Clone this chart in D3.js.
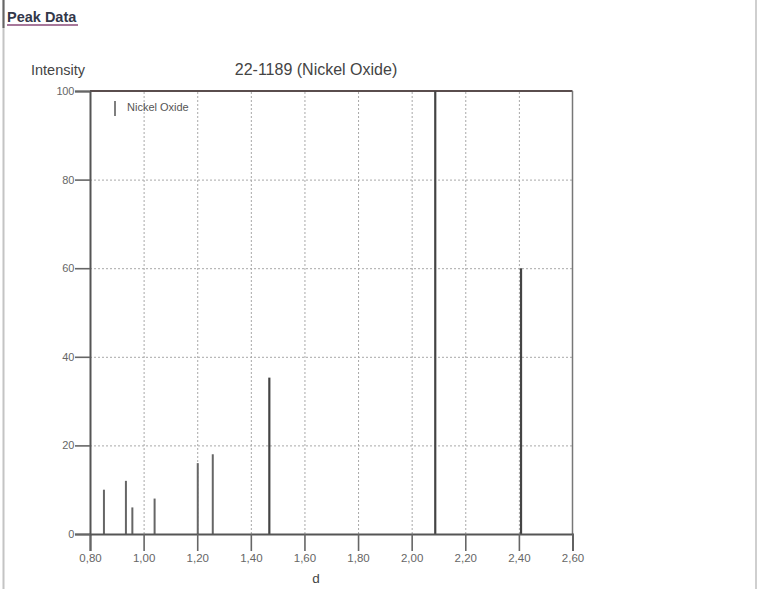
<!DOCTYPE html>
<html>
<head>
<meta charset="utf-8">
<script src="https://cdn.jsdelivr.net/npm/d3@7"></script>
<style>
  html, body { margin: 0; padding: 0; background: #fff; }
  svg { display: block; }
</style>
</head>
<body>
<svg id="chart" width="757" height="589"></svg>
<script>
// ---- data ----
const peakD = [0.852, 0.934, 0.958, 1.041, 1.202, 1.258, 1.469, 2.088, 2.408];
const peakIntensity = [10, 12, 6, 8, 16, 18, 35.3, 100, 60];
const xTicks = [0.8, 1.0, 1.2, 1.4, 1.6, 1.8, 2.0, 2.2, 2.4, 2.6];
const yTicks = [0, 20, 40, 60, 80, 100];
const seriesName = "Nickel Oxide";
const chartTitle = "22-1189 (Nickel Oxide)";

const svg = d3.select("#chart");
const mLeft = 90, mRight = 572.5, mTop = 91, mBottom = 534;

const x = d3.scaleLinear().domain([0.8, 2.6]).range([mLeft, mRight]);
const y = d3.scaleLinear().domain([0, 100]).range([mBottom, mTop]);
const fmt = d => d3.format(".2f")(d).replace(".", ",");
const FONT = "Liberation Sans, Arial, sans-serif";

// page frame lines
svg.append("line").attr("x1", 3.5).attr("x2", 3.5).attr("y1", 0).attr("y2", 589)
  .attr("stroke", "#c4c4c4").attr("stroke-width", 2);
svg.append("line").attr("x1", 3.5).attr("x2", 3.5).attr("y1", 0).attr("y2", 28)
  .attr("stroke", "#666").attr("stroke-width", 2);
svg.append("line").attr("x1", 756).attr("x2", 756).attr("y1", 0).attr("y2", 589)
  .attr("stroke", "#cfcfcf").attr("stroke-width", 2);

// Header
svg.append("text").attr("x", 7).attr("y", 22)
  .attr("font-family", FONT)
  .attr("font-size", 14.5).attr("font-weight", "bold").attr("fill", "#33384a")
  .text("Peak Data");
svg.append("line").attr("x1", 7).attr("x2", 78).attr("y1", 25).attr("y2", 25)
  .attr("stroke", "#8a4a78").attr("stroke-width", 1.5);

// grid
const gridX = svg.append("g").attr("transform", `translate(0,${mBottom})`)
  .call(d3.axisBottom(x).tickValues(xTicks.slice(1, -1)).tickSize(-(mBottom - mTop)).tickFormat(""));
gridX.select(".domain").remove();
gridX.selectAll("line").attr("stroke", "#a8a8a8").attr("stroke-dasharray", "2,2").attr("stroke-width", 1);

const gridY = svg.append("g").attr("transform", `translate(${mLeft},0)`)
  .call(d3.axisLeft(y).tickValues(yTicks.slice(1, -1)).tickSize(-(mRight - mLeft)).tickFormat(""));
gridY.select(".domain").remove();
gridY.selectAll("line").attr("stroke", "#a8a8a8").attr("stroke-dasharray", "2,2").attr("stroke-width", 1);

// frame top & right
svg.append("line").attr("x1", mLeft).attr("x2", mRight).attr("y1", mTop).attr("y2", mTop)
  .attr("stroke", "#5a4d4d").attr("stroke-width", 2);
svg.append("line").attr("x1", mRight).attr("x2", mRight).attr("y1", mTop).attr("y2", mBottom)
  .attr("stroke", "#777").attr("stroke-width", 1.5);

// peaks
svg.append("g").selectAll("line").data(peakD.map((d, i) => ({d, v: peakIntensity[i]})))
  .join("line")
  .attr("x1", p => x(p.d)).attr("x2", p => x(p.d))
  .attr("y1", y(0)).attr("y2", p => y(p.v))
  .attr("stroke", p => p.v >= 30 ? "#444" : "#666")
  .attr("stroke-width", p => p.v >= 30 ? 2.2 : 2);

// axes
const xAxis = svg.append("g").attr("transform", `translate(0,${mBottom})`)
  .call(d3.axisBottom(x).tickValues(xTicks).tickSize(17).tickPadding(3).tickFormat(fmt));
xAxis.select(".domain").attr("stroke", "#555").attr("stroke-width", 2);
xAxis.selectAll("line").attr("stroke", "#666").attr("stroke-width", 1.6);
xAxis.selectAll("text").attr("font-family", FONT)
  .attr("font-size", 11.5).attr("fill", "#666");

const yAxis = svg.append("g").attr("transform", `translate(${mLeft},0)`)
  .call(d3.axisLeft(y).tickValues(yTicks).tickSize(15).tickPadding(1).tickFormat(d3.format("d")));
yAxis.select(".domain").attr("stroke", "#555").attr("stroke-width", 2);
yAxis.selectAll("line").attr("stroke", "#666").attr("stroke-width", 1.6);
yAxis.selectAll("text").attr("font-family", FONT)
  .attr("font-size", 11).attr("fill", "#666").attr("letter-spacing", "-0.3");

// titles
svg.append("text").attr("x", 316).attr("y", 75).attr("text-anchor", "middle")
  .attr("font-family", FONT).attr("font-size", 16)
  .attr("fill", "#444").text(chartTitle);
svg.append("text").attr("x", 31).attr("y", 75)
  .attr("font-family", FONT).attr("font-size", 14.5)
  .attr("fill", "#444").text("Intensity");
svg.append("text").attr("x", 316).attr("y", 583).attr("text-anchor", "middle")
  .attr("font-family", FONT).attr("font-size", 13.5)
  .attr("fill", "#444").text("d");

// legend
svg.append("line").attr("x1", 115).attr("x2", 115).attr("y1", 101).attr("y2", 116)
  .attr("stroke", "#555").attr("stroke-width", 1.5);
svg.append("text").attr("x", 127).attr("y", 111)
  .attr("font-family", FONT).attr("font-size", 11)
  .attr("fill", "#555").text(seriesName);
</script>
</body>
</html>
